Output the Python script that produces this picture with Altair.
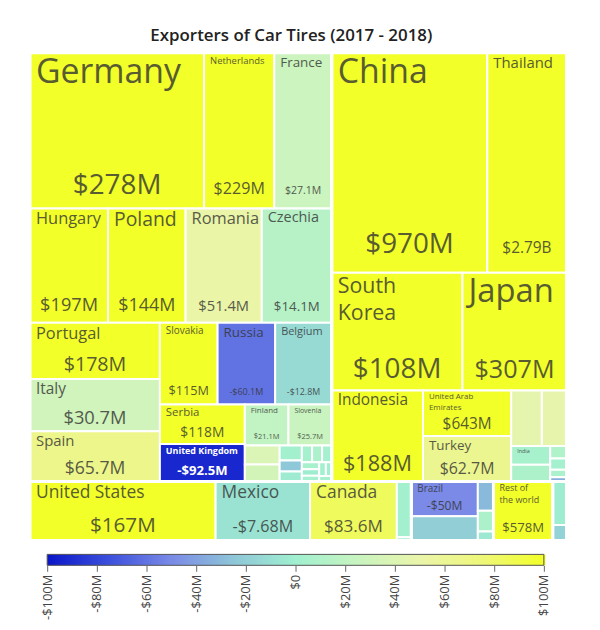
import altair as alt
import numpy as np
import pandas as pd

TITLE = "Exporters of Car Tires (2017 - 2018)"

# ---------------- data ----------------
# size = relative export value (read from tile areas), growth = colour value in $M
COUNTRIES = [
    "Germany", "Netherlands", "France", "Hungary", "Poland", "Romania", "Czechia",
    "Portugal", "Italy", "Spain", "Slovakia", "Russia", "Belgium", "Serbia",
    "United Kingdom", "Finland", "Slovenia", "Austria", "Sweden", "Lithuania",
    "Denmark", "Ukraine", "Switzerland", "Luxembourg", "Croatia", "Bulgaria",
    "Greece", "Belarus", "Estonia", "Latvia", "Bosnia and Herzegovina",
    "China", "Thailand", "South Korea", "Japan", "Indonesia", "United Arab Emirates",
    "Turkey", "Malaysia", "Vietnam", "India", "Taiwan", "Philippines", "Saudi Arabia",
    "Israel", "Sri Lanka",
    "United States", "Mexico", "Canada", "Guatemala", "Honduras",
    "Brazil", "Argentina", "Chile", "Colombia", "Peru",
    "Rest of the world",
    "South Africa", "Morocco",
]
CONTINENT = (["Europe"] * 31 + ["Asia"] * 15 + ["North America"] * 5 +
             ["South America"] * 5 + ["Other"] + ["Africa"] * 2)
SIZE = [
    26800, 10800, 8850, 8800, 8750, 8600, 7900,
    7200, 6700, 6450, 4650, 4640, 4560, 3320,
    3150, 1770, 1760, 650, 590, 330,
    240, 220, 170, 165, 160, 120,
    110, 100, 90, 80, 70,
    33800, 17200, 15200, 12100, 8200, 3970,
    3960, 1680, 1350, 720, 650, 200, 180,
    120, 70,
    10800, 5500, 5050, 800, 45,
    2280, 1590, 450, 320, 140,
    3450,
    590, 210,
]
GROWTH = [
    278, 229, 27.1, 197, 144, 51.4, 14.1,
    178, 30.7, 65.7, 115, -60.1, -12.8, 118,
    -92.5, 21.1, 25.7, 38, 33, 2,
    -24, -3, 4, 6, 3, 5,
    -2, 3, 2, 1, 4,
    970, 2790, 108, 307, 188, 643,
    62.7, 46, 48, 5, 8, 10, 3,
    6, -35,
    167, -7.68, 83.6, 2, 4,
    -50, -20, -30, 8, -5,
    578,
    -2, -18,
]
# 2 = name and value shown, 1 = name only, 0 = no text
SHOW = [2] * 17 + [0] * 14 + [2] * 7 + [0, 0, 1] + [0] * 5 + [2, 2, 2, 0, 0] + \
       [2, 0, 0, 0, 0] + [2] + [0, 0]

COLOR_STOPS = [-100, -75, -50, -25, 0, 25, 50, 75, 100]
COLOR_RANGE = ["#0a16c8", "#3c50dc", "#7a8ae6", "#8ec6d8", "#a0f0d0",
               "#c8f4c0", "#eaf5aa", "#eef779", "#f2ff28"]
TICKS = [-100, -80, -60, -40, -20, 0, 20, 40, 60, 80, 100]

# ---------------- squarified treemap layout (d3 squarify, golden ratio) ----------------
PHI = (1 + 5 ** 0.5) / 2
W, H, K = 540.0, 491.0, 1.2


def squarify(nodes, x0, y0, x1, y1):
    nodes.sort(key=lambda d: -d["value"])
    value = sum(d["value"] for d in nodes)
    n = len(nodes)
    i0 = i1 = 0
    while i0 < n:
        dx, dy = x1 - x0, y1 - y0
        sum_v = nodes[i1]["value"]
        i1 += 1
        min_v = max_v = sum_v
        alpha = max(dy / dx, dx / dy) / (value * PHI)
        beta = sum_v * sum_v * alpha
        min_ratio = max(max_v / beta, beta / min_v)
        while i1 < n:
            nv = nodes[i1]["value"]
            s2 = sum_v + nv
            mn, mx = min(min_v, nv), max(max_v, nv)
            beta = s2 * s2 * alpha
            r = max(mx / beta, beta / mn)
            if r > min_ratio:
                break
            sum_v, min_v, max_v, min_ratio = s2, mn, mx, r
            i1 += 1
        row = nodes[i0:i1]
        if dx < dy:
            ny = y0 + dy * sum_v / value if i1 < n else y1
            x = x0
            for d in row:
                w = (x1 - x0) * d["value"] / sum_v
                d.update(x0=x, x1=x + w, y0=y0, y1=ny)
                x += w
            y0 = ny
        else:
            nx = x0 + dx * sum_v / value if i1 < n else x1
            y = y0
            for d in row:
                h = (y1 - y0) * d["value"] / sum_v
                d.update(x0=x0, x1=nx, y0=y, y1=y + h)
                y += h
            x0 = nx
        value -= sum_v
        i0 = i1
    return nodes


groups = {}
for c, cont, s, g, sh in zip(COUNTRIES, CONTINENT, SIZE, GROWTH, SHOW):
    groups.setdefault(cont, []).append(dict(name=c, continent=cont, value=s, growth=g, show=sh))
top = [dict(name=k, value=sum(d["value"] for d in v), children=v) for k, v in groups.items()]
squarify(top, 0, 0, W, H * K)
leaves = []
for t in top:
    squarify(t["children"], t["x0"], t["y0"], t["x1"], t["y1"])
    leaves.extend(t["children"])


def fmt(v):
    sign = "-" if v < 0 else ""
    a = abs(v)
    if a >= 1000:
        return f"{sign}${a / 1000:.3g}B"
    return f"{sign}${a:.3g}M"


def fit_name(name, w, h):
    words = name.split(" ")
    s = 34.0
    while s >= 4:
        maxc = (w - 12) / (0.56 * s)
        lines, cur, ok = [], "", True
        for wd in words:
            cand = (cur + " " + wd).strip()
            if len(cand) <= maxc:
                cur = cand
            else:
                if cur:
                    lines.append(cur)
                cur = wd
                if len(wd) > maxc:
                    ok = False
                    break
        if ok:
            lines.append(cur)
            nl = len(lines)
            if nl <= 2 and s <= 0.30 * h / nl ** 0.7:
                return s, lines
        s -= 0.5
    return 0, []


LINE = 1.3
cell_rows, name_rows, val_rows = [], [], []
for d in leaves:
    w = d["x1"] - d["x0"]
    h = (d["y1"] - d["y0"]) / K
    cell_rows.append(dict(name=d["name"], growth=d["growth"],
                          x0=d["x0"], x1=d["x1"], y0=d["y0"], y1=d["y1"]))
    if d["show"] < 1:
        continue
    ns, lines = fit_name(d["name"], w, h)
    dark = d["growth"] < -80
    for i, ln in enumerate(lines):
        name_rows.append(dict(txt=ln, growth=d["growth"], dark=dark, x=d["x0"],
                              y=d["y0"] + (3 + i * LINE * ns) * K, size=round(ns, 1)))
    if d["show"] >= 2:
        vtxt = fmt(d["growth"])
        vs = min(28, (w - 10) / (0.75 * len(vtxt)), 0.35 * h,
                 (h - 8 - len(lines) * ns * LINE) / 1.1)
        val_rows.append(dict(txt=vtxt, growth=d["growth"], dark=dark,
                             x=(d["x0"] + d["x1"]) / 2, y=d["y1"] - (4 + 0.07 * h) * K,
                             size=round(max(vs, 0), 1)))

cells_df = pd.DataFrame(cell_rows)
names_df = pd.DataFrame(name_rows)
vals_df = pd.DataFrame(val_rows)
cont_df = pd.DataFrame([dict(name=t["name"], x0=t["x0"], x1=t["x1"], y0=t["y0"], y1=t["y1"]) for t in top])

color_scale = alt.Scale(domain=COLOR_STOPS, range=COLOR_RANGE, clamp=True, interpolate="rgb")
xs = alt.Scale(domain=[0, W], nice=False, zero=False)
ys = alt.Scale(domain=[0, H * K], nice=False, zero=False, reverse=True)

cells = alt.Chart(cells_df).mark_rect(stroke="white", strokeWidth=2).encode(
    x=alt.X("x0:Q", scale=xs, axis=None), x2="x1:Q",
    y=alt.Y("y0:Q", scale=ys, axis=None), y2="y1:Q",
    color=alt.Color("growth:Q", scale=color_scale, legend=None),
)
outlines = alt.Chart(cont_df).mark_rect(fillOpacity=0, stroke="white", strokeWidth=3).encode(
    x=alt.X("x0:Q", scale=xs, axis=None), x2="x1:Q",
    y=alt.Y("y0:Q", scale=ys, axis=None), y2="y1:Q",
)

FONT = "Open Sans"


def text_layers(dark):
    col = "white" if dark else "#333333"
    op = 1 if dark else 0.8
    wt = "bold" if dark else "normal"
    names = alt.Chart(names_df).transform_filter(
        "datum.dark" if dark else "!datum.dark").mark_text(
        align="left", baseline="top", dx=6, font=FONT, color=col, opacity=op, fontWeight=wt,
    ).encode(
        x=alt.X("x:Q", scale=xs, axis=None), y=alt.Y("y:Q", scale=ys, axis=None),
        text="txt:N", size=alt.Size("size:Q", scale=None, legend=None),
    )
    vals = alt.Chart(vals_df).transform_filter(
        "datum.dark" if dark else "!datum.dark").mark_text(
        align="center", baseline="alphabetic", font=FONT, color=col, opacity=op, fontWeight=wt,
    ).encode(
        x=alt.X("x:Q", scale=xs, axis=None), y=alt.Y("y:Q", scale=ys, axis=None),
        text="txt:N", size=alt.Size("size:Q", scale=None, legend=None),
    )
    return [names, vals]


tree = alt.layer(cells, outlines, *text_layers(False), *text_layers(True)).properties(
    width=W, height=H)

# ---------------- colour bar ----------------
steps = np.arange(TICKS[0], TICKS[-1], 1.0)
bar_df = pd.DataFrame({"v0": steps, "v1": steps + 1.6, "g": steps + 0.5})
bx = alt.Scale(domain=[TICKS[0], TICKS[-1]], nice=False, zero=False)
label_expr = ("datum.value < 0 ? '-$' + abs(datum.value) + 'M' : "
              "(datum.value == 0 ? '$0' : '$' + datum.value + 'M')")
grad = alt.Chart(bar_df).mark_rect(strokeWidth=0).encode(
    x=alt.X("v0:Q", scale=bx, axis=alt.Axis(
        values=TICKS, labelAngle=-90, labelExpr=label_expr, tickSize=6, domain=False,
        grid=False, title=None, labelFontSize=13, labelColor="#444444", tickColor="#666666",
        labelFont=FONT, labelPadding=3)),
    x2="v1:Q",
    color=alt.Color("g:Q", scale=color_scale, legend=None),
)
frame = alt.Chart(pd.DataFrame({"a": [TICKS[0]], "b": [TICKS[-1]]})).mark_rect(
    fillOpacity=0, stroke="#555555", strokeWidth=1).encode(
    x=alt.X("a:Q", scale=bx), x2="b:Q")
colorbar = alt.layer(grad, frame).properties(width=500, height=11)

chart = alt.vconcat(tree, colorbar, spacing=11, center=True).properties(
    title=alt.TitleParams(TITLE, fontSize=17, fontWeight=600, font=FONT, color="#222222",
                          anchor="middle", offset=6, dx=-7),
    padding={"left": 28, "top": 25, "right": 32, "bottom": 0},
).configure_view(strokeWidth=0)

chart.save("out.html", embed_options={"renderer": "svg", "actions": False})
